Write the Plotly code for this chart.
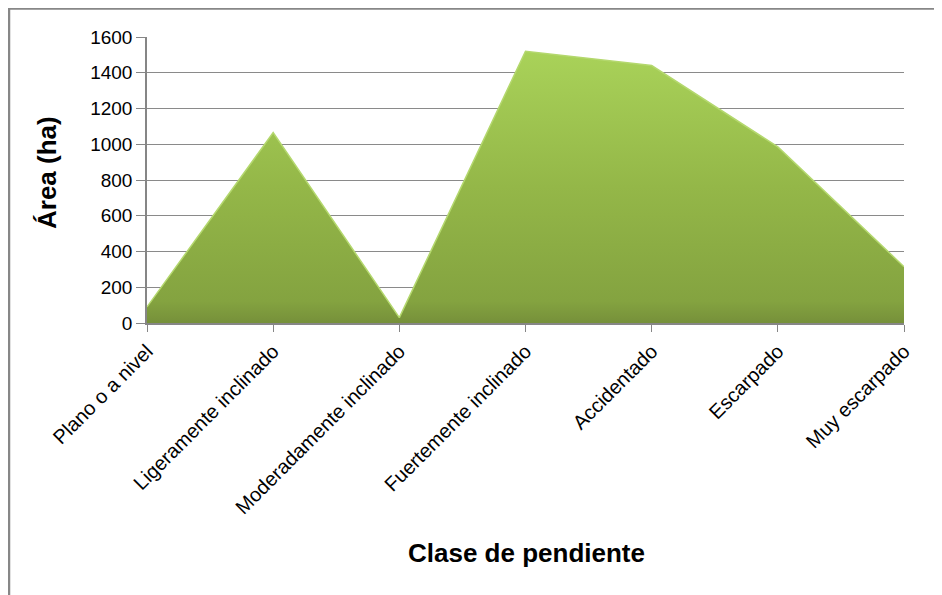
import plotly.graph_objects as go

# Slope classes and their area (ha)
clases = ["Plano o a nivel", "Ligeramente inclinado", "Moderadamente inclinado",
          "Fuertemente inclinado", "Accidentado", "Escarpado", "Muy escarpado"]
area_ha = [90, 1065, 30, 1520, 1440, 985, 315]
y_ticks = [0, 200, 400, 600, 800, 1000, 1200, 1400, 1600]

W, H = 942, 595
L, R, T, B = 139, 46, 29, 280
pw, ph = W - L - R, H - T - B


def px_x(p):
    return (p - L) / pw


def px_y(p):
    return (H - B - p) / ph


fig = go.Figure()
fig.add_trace(go.Scatter(
    x=list(range(len(clases))), y=area_ha,
    mode="lines", fill="tozeroy",
    line=dict(color="#b4d86e", width=1.5),
    fillgradient=dict(type="vertical",
                      colorscale=[[0, "#76903a"], [0.08, "#84a340"],
                                  [0.5, "#94b748"], [1, "#a9d259"]]),
    hoverinfo="skip", showlegend=False,
))

fig.update_layout(
    width=W, height=H,
    margin=dict(l=L, r=R, t=T, b=B),
    paper_bgcolor="white", plot_bgcolor="white",
    font=dict(family="Liberation Sans, Arial, sans-serif", color="black"),
    xaxis=dict(
        range=[0, 6], tickmode="array",
        tickvals=list(range(len(clases))), ticktext=clases,
        tickangle=-45, tickfont=dict(size=20),
        ticks="outside", ticklen=7, tickcolor="#868686",
        showgrid=False, zeroline=False,
        showline=True, linecolor="#868686", linewidth=1.5,
    ),
    yaxis=dict(
        range=[0, 1600], tickmode="array", tickvals=y_ticks,
        tickfont=dict(size=19),
        ticks="outside", ticklen=9, tickcolor="#868686",
        showgrid=True, gridcolor="#8a8a8a", gridwidth=1,
        zeroline=False, showline=True, linecolor="#868686", linewidth=1.5,
    ),
    shapes=[dict(type="rect", xref="paper", yref="paper",
                 x0=px_x(1), x1=px_x(980), y0=px_y(640), y1=px_y(0.5),
                 line=dict(color="#878787", width=2.5), layer="below")],
    annotations=[
        dict(text="<b>Clase de pendiente</b>", xref="paper", yref="paper",
             x=px_x(518), y=px_y(545), xanchor="center", yanchor="middle",
             showarrow=False, font=dict(size=26)),
        dict(text="<b>Área (ha)</b>", xref="paper", yref="paper",
             x=px_x(39), y=px_y(164), xanchor="center", yanchor="middle",
             textangle=-90, showarrow=False, font=dict(size=26)),
    ],
)

fig.write_html("out.html")
